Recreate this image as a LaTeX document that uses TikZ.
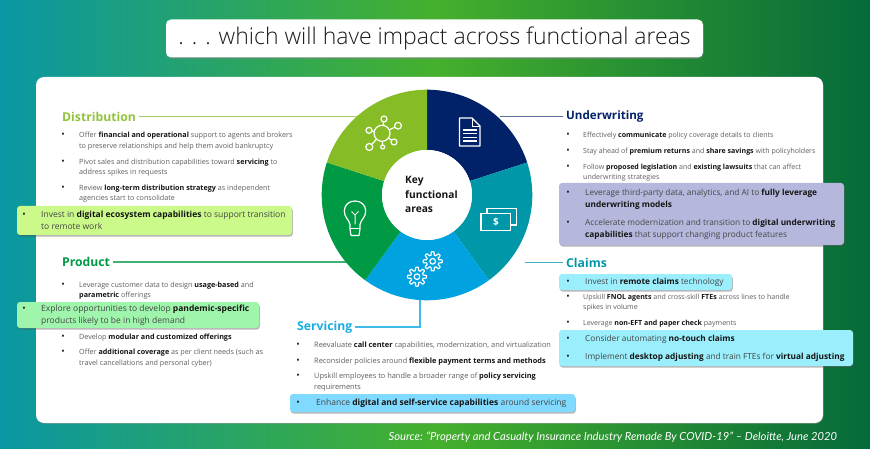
\documentclass[tikz,border=0pt]{standalone}
\usepackage{fontspec}
\usetikzlibrary{shadows,calc}
\setmainfont{Open Sans}
\newfontfamily\srcfont{Lato}
\newfontfamily\ttlfont{Open Sans Light}
\definecolor{cteal}{HTML}{0097A9}
\definecolor{cgreen}{HTML}{009A44}
\definecolor{clime}{HTML}{86BC25}
\definecolor{cnavy}{HTML}{012169}
\definecolor{cblue}{HTML}{00A3E0}
\definecolor{bgA}{HTML}{0A97A3}
\definecolor{bgB}{HTML}{45B02C}
\definecolor{bgC}{HTML}{056A3A}
\definecolor{txt}{HTML}{5E5E5E}
\definecolor{txtb}{HTML}{454545}
\definecolor{boldc}{HTML}{141414}
\definecolor{HLa}{HTML}{CBF98A}
\definecolor{HLb}{HTML}{A0F5AC}
\definecolor{HLc}{HTML}{80DAFF}
\definecolor{HLd}{HTML}{B5B8DC}
\definecolor{HLe}{HTML}{9BEEFC}
\pgfdeclarehorizontalshading{bgshade}{100bp}{color(0bp)=(bgA); color(25bp)=(bgA); color(50bp)=(bgB); color(75bp)=(bgC); color(100bp)=(bgC)}
\newcommand\bb[1]{\textcolor{boldc}{\textbf{#1}}}
\newcommand\bs{7.2}
\newcommand\hs{8.5}
\tikzset{
  x=1pt,y=-1pt,
  body/.style={anchor=west,inner sep=0,align=left,text=txt,font=\fontsize{\bs}{10.5}\selectfont},
  hl/.style={anchor=west,inner sep=0,align=left,text=txtb,font=\fontsize{\hs}{12}\selectfont},
  bul/.style={inner sep=0,text=boldc,font=\fontsize{9}{10.5}\selectfont},
  head/.style={anchor=west,inner sep=3pt,font=\fontsize{12.2}{15}\selectfont\bfseries},
  hbox/.style={rounded corners=3pt,fill=#1,drop shadow={shadow xshift=0.8pt,shadow yshift=-1.6pt,opacity=.4,fill=black!70}},
  conn/.style={line width=1.1pt},
  ico/.style={draw=white,line width=1.2pt},
}
\newcommand\itm[5]{% bullet x, text x, first-line y, mid y, text
  \node[bul] at (#1,#3) {\strut •};
  \node[body] at (#2,#4) {#5};}
\newcommand\itmh[5]{%
  \node[bul] at (#1,#3) {\strut •};
  \node[hl] at (#2,#4) {#5};}
\newcommand\pieseg[3]{%
  \fill[#3] plot[domain=#1:#2,samples=40] ({427+105.3*cos(\x)},{195+105.3*sin(\x)})
    -- plot[domain=#2:#1,samples=40] ({427+45*cos(\x)},{195+45*sin(\x)}) -- cycle;}
\begin{document}
\begin{tikzpicture}
\useasboundingbox (0,0) rectangle (870,449);
\shade[shading=bgshade] (0,0) rectangle (870,449);
\fill[white,rounded corners=8pt,drop shadow={shadow xshift=0.5pt,shadow yshift=-1pt,opacity=.4}] (36,77) rectangle (823,423);
% title
\node[draw=none,fill=white,rounded corners=5pt,minimum width=537pt,minimum height=38pt,inner sep=0,drop shadow={shadow xshift=0.5pt,shadow yshift=-1.5pt,opacity=.5},font=\fontsize{23}{28}\selectfont\ttlfont,text=black!90] (title) at (434.5,38.5) {. . . which will have impact across functional areas};
\node[anchor=east,inner sep=0,text=white,font=\fontsize{11.2}{14}\selectfont\srcfont\itshape] (src) at (837,437) {Source: “Property and Casualty Insurance Industry Remade By COVID-19” – Deloitte, June 2020};

% connector free ends, under the wheel
\coordinate (wD) at (360,117.5);
\coordinate (wP) at (350,263);
\coordinate (wU) at (500,117.5);
\coordinate (wC) at (525,263);
\coordinate (wS) at (420,295);

% headings
\node[head,text=clime!90!white] (dist) at (59,116.5) {Distribution};
\node[head,text=cgreen] (prod) at (59,262) {Product};
\node[head,text=cnavy,font=\fontsize{11.6}{15}\selectfont\bfseries] (under) at (563,116.5) {Underwriting};
\node[head,text=cteal] (claims) at (563,262.5) {Claims};
\node[head,text=cblue!90!white] (serv) at (294,327) {Servicing};

\draw[conn,draw=clime!75!white] (dist.east) -- (dist.east -| wD);
\draw[conn,draw=cgreen!75!white] (prod.east) -- (prod.east -| wP);
\draw[conn,draw=cnavy!65!white] (under.west) -- (under.west -| wU);
\draw[conn,draw=cteal!75!white] (claims.west) -- (claims.west -| wC);
\draw[conn,draw=cblue!75!white] (serv.east) -| (wS);

% wheel
\pieseg{-90}{-18}{cnavy}
\pieseg{-18}{54}{cteal}
\pieseg{54}{126}{cblue}
\pieseg{126}{198}{cgreen}
\pieseg{198}{270}{clime}
\node[circle,fill=white,minimum size=90pt,inner sep=0] (hub) at (427,195) {};
\node[anchor=west,inner sep=0,align=left,text=boldc,font=\fontsize{10.2}{14.5}\selectfont\bfseries] (hubt) at (405,195.5) {\strut Key\\\strut functional\\\strut areas};

% network icon
\coordinate (nc) at (382,133.3);
\draw[ico] (nc) circle (8);
\foreach \xx/\yy/\rr in {384/119/3,398/125.7/3.4,394/142/3,382.7/147/2,369.3/147/3.5,369/130.3/3}{
  \draw[ico] (\xx,\yy) circle (\rr);
  \draw[ico] ($(nc)!8pt!(\xx,\yy)$) -- ($(\xx,\yy)!\rr pt!(nc)$);
}
% document icon
\draw[ico,line join=round] (459.5,118) -- (472,118) -- (480,126) -- (480,146) -- (459.5,146) -- cycle;
\draw[ico,line width=.9pt] (472,118) -- (472,126) -- (480,126);
\foreach \yy in {130,133.7,137.4,141.1} \draw[ico,line width=1.4pt] (463,\yy) -- (476.5,\yy);
% bills icon
\draw[ico] (481,213.5) rectangle (510.5,230.5);
\draw[ico] (487,213.5) -- (487,208.5) -- (516.5,208.5) -- (516.5,225) -- (510.5,225);
\node[inner sep=0,text=white,font=\fontsize{10}{12}\selectfont\bfseries] (dollar) at (496,222) {\$};
% gears
\foreach \cx/\cy in {432.7/261.3,417/276.7}{
  \draw[ico,line join=round] plot[domain=0:360,samples=121] ({\cx+(7.9+1.6*max(-1,min(1,2.2*cos(8*\x))))*cos(\x)},{\cy+(7.9+1.6*max(-1,min(1,2.2*cos(8*\x))))*sin(\x)}) -- cycle;
  \draw[ico] (\cx,\cy) circle (2.8);
}
% bulb
\draw[ico,line join=round] (350,229) -- (350,224.5) .. controls (349,219) and (344.3,218) .. (344.3,211) .. controls (344.3,205) and (349,201) .. (355,201) .. controls (361,201) and (365.7,205) .. (365.7,211) .. controls (365.7,218) and (361,219) .. (360,224.5) -- (360,229) -- (359,235.5) -- (351,235.5) -- cycle;
\draw[ico,line width=1pt] (350,229) -- (360,229);
\draw[ico,line width=1pt] (355,224.5) -- (355,215) (351.5,211.5) -- (355,215) -- (358.5,211.5);

% Distribution
\itm{63}{79}{135.7}{140.9}{\strut Offer \bb{financial and operational} support to agents and brokers\\\strut to preserve relationships and help them avoid bankruptcy}
\itm{63}{79}{162}{167.2}{\strut Pivot sales and distribution capabilities toward \bb{servicing} to\\\strut address spikes in requests}
\itm{63}{79}{188}{193.2}{\strut Review \bb{long-term distribution strategy} as independent\\\strut agencies start to consolidate}
\path[hbox=HLa] (17,206) rectangle (292,235);
\itmh{24}{41}{215}{221}{\strut Invest in \bb{digital ecosystem capabilities} to support transition\\\strut to remote work}

% Product
\itm{63}{79}{285}{290.2}{\strut Leverage customer data to design \bb{usage-based} and\\\strut \bb{parametric} offerings}
\path[hbox=HLb] (17,302) rectangle (259,328);
\itmh{24}{41}{309}{315}{\strut Explore opportunities to develop \bb{pandemic-specific}\\\strut products likely to be in high demand}
\itm{63}{79}{337}{337}{\strut Develop \bb{modular and customized offerings}}
\itm{63}{79}{352.5}{357.7}{\strut Offer \bb{additional coverage} as per client needs (such as\\\strut travel cancellations and personal cyber)}

% Servicing
\renewcommand\bs{7.4}
\itm{298}{314}{345.5}{345.5}{\strut Reevaluate \bb{call center} capabilities, modernization, and virtualization}
\itm{298}{314}{361}{361}{\strut Reconsider policies around \bb{flexible payment terms and methods}}
\itm{298}{314}{376.5}{381.7}{\strut Upskill employees to handle a broader range of \bb{policy servicing}\\\strut requirements}
\path[hbox=HLc] (290,394) rectangle (575,412);
\itmh{298}{316}{403}{403}{\strut Enhance \bb{digital and self-service capabilities} around servicing}

% Underwriting
\renewcommand\bs{7.05}
\renewcommand\hs{8.3}
\itm{568}{583}{135.5}{135.5}{\strut Effectively \bb{communicate} policy coverage details to clients}
\itm{568}{583}{151}{151}{\strut Stay ahead of \bb{premium returns} and \bb{share savings} with policyholders}
\itm{568}{583}{167}{172.2}{\strut Follow \bb{proposed legislation} and \bb{existing lawsuits} that can affect\\\strut underwriting strategies}
\path[hbox=HLd] (559,183) rectangle (844,245);
\itmh{568}{585}{193}{199}{\strut Leverage third-party data, analytics, and AI to \bb{fully leverage}\\\strut \bb{underwriting models}}
\itmh{568}{585}{223}{229}{\strut Accelerate modernization and transition to \bb{digital underwriting}\\\strut \bb{capabilities} that support changing product features}

% Claims
\path[hbox=HLe] (559,274) rectangle (732,290);
\itmh{568}{585}{282}{282}{\strut Invest in \bb{remote claims} technology}
\itm{568}{583}{297}{302.2}{\strut Upskill \bb{FNOL agents} and cross-skill \bb{FTEs} across lines to handle\\\strut spikes in volume}
\itm{568}{583}{323}{323}{\strut Leverage \bb{non-EFT and paper check} payments}
\path[hbox=HLe] (559,330) rectangle (853,366);
\itmh{568}{585}{339}{339}{\strut Consider automating \bb{no-touch claims}}
\itmh{568}{585}{357}{357}{\strut Implement \bb{desktop adjusting} and train FTEs for \bb{virtual adjusting}}
\end{tikzpicture}
\end{document}
